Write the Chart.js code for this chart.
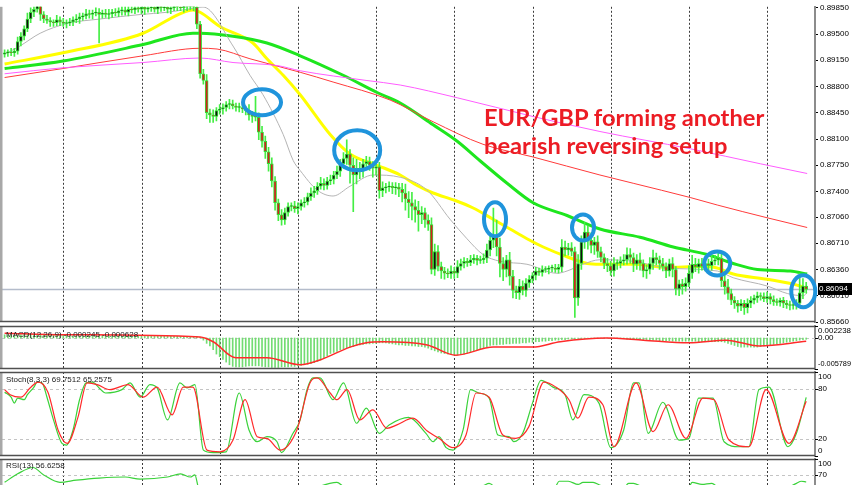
<!DOCTYPE html>
<html lang="en">
<head>
<meta charset="UTF-8">
<title>EUR/GBP H1</title>
<script src="https://cdn.jsdelivr.net/npm/chart.js@4.4.1/dist/chart.umd.min.js"></script>
<style>
    html, body { margin: 0; padding: 0; background: #fff; overflow: hidden; }
    #wrap { position: relative; width: 852px; height: 485px; overflow: hidden; }
    canvas { position: absolute; left: 0; }
    .lbl { position: absolute; left: 6px; font: 8px "Liberation Sans", Arial, sans-serif; color: #222; white-space: nowrap; line-height: 10px; }
    .note { position: absolute; left: 484px; color: #ec1c24; font-family: Lato, sans-serif; font-weight: 700; white-space: nowrap; line-height: 1; }
</style>
</head>
<body>
<div id="wrap">
    <canvas id="main" width="852" height="330" style="top:0"></canvas>
    <canvas id="macd" width="852" height="57" style="top:318px"></canvas>
    <canvas id="stoch" width="852" height="98" style="top:364px"></canvas>
    <canvas id="rsi" width="852" height="61" style="top:451px"></canvas>
    <div class="lbl" style="top:330px">MACD(12,26,9) -0.000245 -0.000628</div>
    <div class="lbl" style="top:375px">Stoch(8,3,3) 69.7512 65.2575</div>
    <div class="lbl" style="top:461px">RSI(13) 56.6258</div>
    <div class="note" id="note1">EUR/GBP forming another</div>
    <div class="note" id="note2">bearish reversing setup</div>
</div>

<script>
    // ---- data (prices in pips, 8609 = 0.8609) ----
    const firstOpen = 8923;
    const closes = [
        8925, 8926, 8925, 8927, 8940, 8947, 8957, 8970, 8979, 8983,
        8990, 8976, 8970, 8968, 8966, 8965, 8969, 8966, 8964, 8965,
        8966, 8969, 8970, 8973, 8974, 8977, 8976, 8978, 8979, 8976,
        8978, 8976, 8977, 8979, 8978, 8981, 8982, 8979, 8983, 8982,
        8985, 8983, 8986, 8983, 8985, 8986, 8983, 8987, 8985, 8986,
        8983, 8985, 8987, 8986, 8985, 8989, 8986, 8987, 8986, 8963,
        8897, 8888, 8845, 8842, 8840, 8848, 8850, 8852, 8856, 8857,
        8854, 8852, 8852, 8850, 8848, 8842, 8840, 8839, 8819, 8807,
        8793, 8777, 8754, 8725, 8709, 8702, 8712, 8720, 8721, 8717,
        8720, 8725, 8726, 8733, 8738, 8741, 8747, 8751, 8748, 8754,
        8756, 8762, 8767, 8777, 8784, 8790, 8775, 8762, 8771, 8767,
        8777, 8780, 8775, 8771, 8773, 8741, 8745, 8746, 8747, 8745,
        8746, 8743, 8738, 8730, 8725, 8720, 8715, 8709, 8712, 8702,
        8696, 8636, 8660, 8640, 8634, 8631, 8630, 8634, 8631, 8640,
        8644, 8647, 8645, 8649, 8651, 8648, 8649, 8651, 8662, 8675,
        8682, 8666, 8644, 8636, 8649, 8627, 8608, 8605, 8614, 8608,
        8618, 8623, 8628, 8634, 8632, 8636, 8636, 8638, 8638, 8636,
        8639, 8666, 8662, 8665, 8660, 8598, 8644, 8673, 8686, 8675,
        8668, 8673, 8660, 8652, 8644, 8641, 8634, 8644, 8644, 8647,
        8649, 8656, 8652, 8643, 8649, 8644, 8634, 8636, 8644, 8652,
        8649, 8644, 8640, 8634, 8644, 8636, 8610, 8617, 8613, 8618,
        8631, 8643, 8639, 8644, 8640, 8644, 8641, 8647, 8649, 8651,
        8621, 8613, 8604, 8595, 8591, 8587, 8591, 8585, 8591, 8595,
        8598, 8601, 8600, 8597, 8600, 8596, 8593, 8592, 8595, 8591,
        8589, 8588, 8589, 8591, 8605, 8614, 8609.4
    ];
    const upWick = [
        4, 3, 5, 4, 6, 5, 4, 8, 6, 5, 6, 3, 4, 5, 4, 3, 6, 4, 5, 4,
        5, 4, 6, 5, 4, 6, 5, 4, 6, 5, 4, 5, 6, 4, 5, 4, 6, 5, 4, 5,
        4, 5, 6, 4, 5, 4, 5, 4, 6, 5, 4, 5, 4, 6, 5, 4, 5, 4, 5, 6,
        4, 6, 8, 5, 7, 4, 6, 5, 4, 6, 5, 4, 6, 5, 4, 8, 5, 27, 6, 8,
        7, 6, 8, 6, 5, 7, 6, 5, 4, 6, 5, 4, 6, 5, 7, 6, 5, 8, 6, 5,
        6, 5, 7, 6, 8, 19, 6, 10, 12, 8, 6, 7, 6, 5, 7, 6, 8, 5, 6, 5,
        6, 5, 8, 12, 10, 14, 9, 12, 8, 6, 7, 9, 10, 8, 6, 5, 6, 7, 5, 8,
        6, 5, 4, 6, 5, 4, 5, 6, 8, 10, 36, 20, 12, 8, 6, 10, 8, 6, 9, 7,
        6, 5, 4, 5, 4, 5, 4, 3, 4, 5, 4, 10, 8, 6, 7, 6, 12, 8, 13, 8,
        10, 6, 8, 6, 5, 7, 6, 8, 5, 6, 7, 9, 8, 6, 7, 9, 5, 6, 8, 10,
        6, 5, 7, 5, 6, 8, 4, 5, 6, 7, 10, 12, 8, 6, 7, 5, 6, 8, 6, 7,
        6, 8, 10, 6, 5, 4, 5, 4, 6, 5, 4, 5, 4, 5, 6, 4, 5, 4, 3, 4,
        4, 5, 4, 5, 26, 10, 5
    ];
    const dnWick = [
        4, 5, 4, 5, 4, 6, 5, 4, 5, 6, 4, 8, 5, 4, 6, 5, 4, 5, 4, 6,
        4, 5, 4, 6, 5, 4, 5, 6, 4, 38, 5, 4, 6, 5, 4, 5, 6, 4, 5, 4,
        5, 4, 6, 7, 4, 5, 4, 6, 5, 4, 5, 6, 4, 5, 4, 6, 5, 4, 5, 6,
        6, 5, 8, 10, 8, 6, 5, 7, 5, 6, 4, 5, 6, 5, 6, 7, 8, 5, 10, 8,
        9, 10, 8, 10, 8, 7, 6, 5, 6, 5, 7, 5, 6, 4, 5, 6, 5, 4, 6, 5,
        5, 6, 5, 7, 6, 8, 24, 49, 12, 10, 8, 6, 7, 12, 9, 10, 8, 7, 6, 8,
        9, 10, 12, 15, 20, 18, 16, 22, 12, 10, 8, 6, 8, 6, 10, 8, 5, 6, 7, 6,
        5, 6, 5, 4, 5, 6, 4, 5, 6, 8, 10, 12, 18, 15, 10, 12, 10, 8, 9, 6,
        8, 6, 5, 6, 4, 5, 4, 6, 5, 4, 5, 6, 8, 7, 6, 26, 10, 8, 9, 12,
        10, 12, 8, 6, 7, 8, 6, 7, 8, 6, 5, 6, 8, 10, 7, 9, 8, 10, 6, 8,
        7, 8, 6, 9, 7, 10, 8, 9, 10, 6, 5, 7, 6, 8, 5, 6, 7, 6, 5, 7,
        8, 10, 8, 6, 7, 8, 6, 9, 7, 6, 5, 6, 5, 4, 5, 6, 5, 4, 5, 6,
        5, 6, 5, 6, 4, 8, 5
    ];

    // moving averages: [bar index, pips]
    const maYellow = [[0, 8910], [17.9, 8925], [42.5, 8951], [53.8, 8977], [57.8, 8982], [60, 8979], [66.1, 8960], [76.2, 8938], [80.5, 8917], [85.5, 8895], [90.7, 8869], [99.9, 8816], [106, 8790], [114.3, 8775], [121.4, 8762], [126.6, 8748], [131.5, 8738], [138.3, 8728], [143.8, 8718], [149.9, 8703], [155.1, 8690], [160.3, 8677], [165.3, 8666], [172.6, 8653], [178.8, 8644], [182.7, 8643], [192.9, 8643], [203.3, 8639], [213.4, 8640], [218.7, 8638], [223.6, 8630], [234, 8623], [244.1, 8614], [246.3, 8610]];
    const maGreen = [[0, 8904], [17.9, 8914], [42.5, 8936], [57.8, 8951], [60, 8951], [70.1, 8947], [80.5, 8938], [90.7, 8921], [103.9, 8895], [114.3, 8872], [121.4, 8858], [131.5, 8829], [138.9, 8807], [145.9, 8781], [154.2, 8751], [162.2, 8725], [172.6, 8708], [182.7, 8690], [195, 8679], [205.2, 8666], [215.6, 8656], [223.6, 8644], [231, 8636], [241.1, 8634], [246.3, 8630]];
    const maRed = [[0, 8892], [17.9, 8904], [42.5, 8921], [60, 8931], [65.2, 8930], [75.3, 8917], [90.7, 8899], [100.8, 8886], [118.3, 8862], [131.5, 8833], [146.8, 8803], [162.2, 8786], [182.7, 8762], [192.9, 8751], [210.4, 8732], [218.7, 8722], [234, 8705], [246.3, 8692]];
    const maMagenta = [[0, 8897], [17.9, 8905], [42.5, 8912], [60, 8918], [70.1, 8912], [83.6, 8908], [90.7, 8901], [111.2, 8888], [121.4, 8882], [138.9, 8865], [162.2, 8840], [182.7, 8820], [210.4, 8797], [231.9, 8777], [246.3, 8764]];
    const maGray = [[0, 8923], [4.7, 8934], [10.9, 8951], [19.2, 8964], [29.3, 8970], [41.6, 8976], [49.9, 8979], [56, 8983], [60.9, 8986], [70.1, 8934], [75.3, 8895], [79.3, 8869], [85.5, 8816], [88.6, 8781], [90.7, 8768], [95.9, 8742], [100.8, 8734], [106, 8747], [113.1, 8762], [121.4, 8759], [129.6, 8742], [136.7, 8703], [141.9, 8677], [146.8, 8656], [152, 8647], [160.3, 8643], [169.5, 8631], [172.6, 8634], [177.5, 8643], [182.7, 8649], [192.9, 8647], [203.3, 8638], [218.7, 8634], [223.6, 8625], [234, 8614], [240.2, 8604], [245.1, 8601], [246.3, 8605]];

    // MACD histogram (x 0.0001) and signal [bar, x 0.0001]
    const macdHist = [
        6, 6, 6, 6, 6, 6, 7, 7, 7, 7, 7, 6, 6, 6, 5, 5, 5, 5, 5, 5,
        4, 4, 4, 4, 4, 4, 4, 4, 4, 4, 4, 4, 4, 4, 4, 4, 3, 3, 3, 3,
        3, 3, 3, 3, 3, 3, 3, 3, 3, 3, 3, 3, 3, 3, 3, 3, 3, 3, 3, 3,
        1, -4, -10, -15, -22, -30, -35, -40, -45, -50, -53, -54, -54, -54, -53, -52, -52, -52, -52, -53,
        -54, -54, -55, -55, -55, -54, -54, -54, -53, -53, -52, -51, -50, -49, -48, -46, -44, -41, -37, -33,
        -29, -27, -25, -22, -20, -18, -17, -16, -14, -13, -12, -11, -11, -10, -10, -9, -9, -9, -10, -11,
        -12, -13, -13, -14, -14, -15, -15, -16, -16, -17, -19, -22, -24, -26, -28, -29, -30, -31, -32, -32,
        -31, -30, -28, -26, -24, -22, -20, -18, -16, -14, -13, -13, -12, -12, -11, -11, -10, -10, -10, -9,
        -9, -8, -8, -7, -7, -6, -6, -5, -5, -4, -4, -3, -3, -2, -2, -2, -1, -1, -1, 0,
        0, 0, 0, 0, 0, 0, 0, 0, -1, -1, -1, -2, -2, -2, -3, -3, -3, -3, -4, -4,
        -4, -5, -5, -5, -5, -6, -6, -6, -6, -6, -6, -6, -6, -7, -7, -7, -7, -7, -7, -7,
        -7, -8, -10, -12, -14, -16, -17, -17, -17, -17, -17, -17, -16, -15, -14, -13, -12, -11, -10, -9,
        -8, -7, -6, -5, -4, -3, -2.45
    ];
    const macdSignal = [[0, 9], [18, 6], [60, 2], [64, -7], [71, -37], [80.5, -37], [90.7, -50], [96.8, -41], [106, -17], [111, -9], [116, -7], [129.7, -13], [138.5, -32], [150, -17], [162, -17], [170.5, -7], [184.6, 0], [196, -4], [210, -9], [221.4, -4], [231.6, -15], [246, -6.28]];

    // Stochastic %K / %D and RSI: [bar, value]
    const stochK = [[0, 76], [2, 70], [3, 63], [4, 69], [6, 67], [7, 73], [9, 82], [10, 88], [11.5, 87], [13, 70], [15, 43], [17.6, 15], [19, 13], [21, 31], [23, 67], [25, 87], [27, 88], [29, 81], [31, 75], [36, 79], [38.5, 87], [41.6, 70], [44.6, 85], [46.8, 81], [50, 43], [53.8, 87], [56, 81], [58.4, 85], [61, 7], [64, 4], [68, 5], [72, 75], [75, 31], [77.5, 17], [80.5, 23], [83.6, 17], [85, 4], [88.5, 27], [90.7, 43], [92.8, 79], [94.6, 93], [96.8, 93], [100.8, 67], [104, 87], [108, 39], [111, 57], [115, 27], [118, 37], [124, 46], [129.3, 27], [131.5, 17], [133.3, 23], [135.5, 10], [137.6, 7], [140.7, 31], [143, 79], [145.6, 75], [148.7, 69], [151.4, 25], [154.8, 23], [156.3, 17], [159, 27], [162, 63], [164.6, 90], [168.3, 82], [172, 73], [174.4, 43], [177.8, 73], [182.4, 63], [186, 10], [190, 31], [193, 87], [194.7, 87], [197.5, 27], [202, 64], [207, 19], [210, 21], [213, 69], [217.4, 69], [220.8, 17], [225.4, 11], [228.4, 11], [231.5, 79], [234.6, 82], [240.4, 11], [243, 27], [246, 69.75]];
    const stochD = [[0, 79], [1.7, 73], [5, 70], [7.8, 81], [10.3, 88], [13.3, 76], [16.4, 31], [19.2, 15], [22.5, 46], [25.3, 87], [28.4, 85], [32.3, 79], [37.9, 85], [42.5, 70], [46.8, 82], [51.4, 49], [54.8, 82], [57.8, 82], [62.1, 7], [66.1, 5], [70.1, 19], [73.8, 67], [77.5, 23], [80.5, 21], [84.5, 7], [89.7, 31], [93.7, 87], [95.9, 93], [99.9, 75], [102, 67], [105.1, 79], [109, 43], [113, 55], [117.3, 33], [120.4, 37], [125.3, 45], [129.6, 30], [133.3, 21], [137.6, 10], [141.6, 25], [144.7, 75], [148.7, 70], [152.9, 25], [156.9, 21], [160.9, 35], [165.5, 88], [169.2, 82], [173.2, 67], [175.9, 45], [179.3, 70], [183.6, 61], [187, 11], [193.8, 87], [199, 29], [203.6, 61], [209.1, 21], [214.3, 69], [217.7, 67], [222.3, 19], [228.4, 11], [233.7, 79], [240.7, 15], [246, 65.26]];
    const rsi = [[0, 56], [4, 72], [8.7, 84], [12, 70], [17, 56], [22, 60], [29, 64], [37, 66], [41.6, 62], [50, 66], [54, 72], [57, 66], [58.4, 70], [59.5, 45], [62, 25], [70, 30], [80, 28], [86, 25], [95, 45], [102, 56], [104, 48], [115, 35], [130, 30], [140, 32], [147, 50], [148.7, 54], [151, 45], [160, 38], [169, 48], [170.2, 58], [173, 58], [176, 52], [177.5, 56], [180.6, 56], [183, 50], [190, 46], [191.5, 54], [193, 54], [196, 48], [210, 48], [211, 56], [214, 52], [217, 54], [220, 40], [230, 30], [240, 45], [243, 54], [244.5, 58], [246, 56.63]];

    const priceTicks = [0.89850, 0.89500, 0.89150, 0.88800, 0.88450, 0.88100, 0.87750, 0.87400, 0.87060, 0.86710, 0.86360, 0.86010, 0.85660];
    const dayStarts = [18.2, 42.2, 66.2, 90.2, 114.2, 138.2, 162.2, 186.2, 210.2, 234.2];
    // blue rings: [bar, pips, rx, ry]
    const rings = [[79, 8859, 19, 13], [108.2, 8795, 23, 20], [150.5, 8703, 11, 17], [177.5, 8692, 11, 13], [218.7, 8644, 13, 12], [245.1, 8607, 12, 16]];

    // ---- helpers ----
    const lastPrice = closes[closes.length - 1] / 1e4;
    const opens = closes.map((c, i) => i === 0 ? firstOpen : closes[i - 1]);
    const pts = (arr, k) => arr.map(([x, y]) => ({ x: x, y: y * k }));

    Chart.defaults.animation = false;
    Chart.defaults.responsive = false;
    Chart.defaults.devicePixelRatio = 1;
    Chart.defaults.events = [];
    Chart.defaults.font.family = 'Liberation Sans';
    Chart.defaults.font.size = 8;
    Chart.defaults.plugins.legend.display = false;
    Chart.defaults.plugins.tooltip.enabled = false;

    function xAxis() {
        return {
            type: 'linear', min: -0.8, max: 248.7, offset: false,
            afterBuildTicks: s => { s.ticks = dayStarts.map(v => ({ value: v })); },
            afterFit: s => { s.height = 0; },
            ticks: { display: false },
            grid: { color: '#3c3c3c', lineWidth: 1, drawTicks: false, offset: false },
            border: { display: false, dash: [2, 2] }
        };
    }
    function subY(min, max) {
        return {
            position: 'right', min: min, max: max, beginAtZero: false,
            afterFit: s => { s.width = 37; },
            ticks: { display: false },
            grid: { display: false },
            border: { display: true, color: '#8c8c8c', width: 2 }
        };
    }

    const frame = {
        id: 'frame',
        beforeDatasetsDraw(chart, args, o) {
            const { ctx, chartArea: a, scales } = chart;
            ctx.save();
            ctx.strokeStyle = '#c4c4c4';
            ctx.lineWidth = 1;
            ctx.setLineDash([3, 3]);
            (o.levels || []).forEach(v => {
                const y = Math.round(scales.y.getPixelForValue(v)) + 0.5;
                ctx.beginPath(); ctx.moveTo(a.left, y); ctx.lineTo(a.right, y); ctx.stroke();
            });
            ctx.restore();
        },
        afterDraw(chart, args, o) {
            const { ctx, chartArea: a, scales } = chart;
            ctx.save();
            ctx.fillStyle = '#a8a8a8';
            ctx.fillRect(0, a.top, 2.5, a.bottom - a.top);
            ctx.strokeStyle = '#505050';
            ctx.lineWidth = 1.5;
            if (o.top) { ctx.beginPath(); ctx.moveTo(0, a.top + 0.5); ctx.lineTo(a.right, a.top + 0.5); ctx.stroke(); }
            if (o.bottom) { ctx.beginPath(); ctx.moveTo(0, a.bottom - 0.5); ctx.lineTo(a.right, a.bottom - 0.5); ctx.stroke(); }
            if (o.labels) {
                ctx.font = '8px "Liberation Sans"';
                ctx.fillStyle = '#000';
                ctx.textBaseline = 'middle';
                o.labels.forEach(([v, t]) => {
                    const yy = scales.y.getPixelForValue(v);
                    const y = Math.min(Math.max(yy, a.top + 5), a.bottom - 5);
                    const x = a.right + 3;
                    ctx.fillRect(a.right, Math.round(yy), 3, 1);
                    ctx.fillText(t, x, y, chart.width - x - 1);
                });
            }
            ctx.restore();
        }
    };

    const priceMarks = {
        id: 'priceMarks',
        beforeDatasetsDraw(chart) {
            const { ctx, chartArea: a, scales } = chart;
            const y = scales.y.getPixelForValue(lastPrice);
            ctx.save();
            ctx.strokeStyle = '#b4bccb';
            ctx.lineWidth = 1.5;
            ctx.beginPath(); ctx.moveTo(a.left, y); ctx.lineTo(a.right, y); ctx.stroke();
            ctx.restore();
        },
        afterDatasetsDraw(chart) {
            const { ctx, scales } = chart;
            ctx.save();
            ctx.strokeStyle = '#1f94dc';
            ctx.lineWidth = 4;
            rings.forEach(([i, p, rx, ry]) => {
                ctx.beginPath();
                ctx.ellipse(scales.x.getPixelForValue(i), scales.y.getPixelForValue(p / 1e4), rx, ry, 0, 0, Math.PI * 2);
                ctx.stroke();
            });
            ctx.restore();
        },
        afterDraw(chart) {
            const { ctx, chartArea: a, scales } = chart;
            const y = scales.y.getPixelForValue(lastPrice);
            ctx.save();
            ctx.fillStyle = '#000';
            ctx.fillRect(a.right + 3, Math.round(y) - 6, 34, 12);
            ctx.fillStyle = '#fff';
            ctx.font = '8px "Liberation Sans"';
            ctx.textBaseline = 'middle';
            ctx.fillText(lastPrice.toFixed(5), a.right + 4, Math.round(y));
            ctx.restore();
        }
    };

    const maLine = (arr, color, w) => ({
        type: 'line', data: pts(arr, 1e-4), borderColor: color, borderWidth: w,
        pointRadius: 0, cubicInterpolationMode: 'monotone', order: 5
    });

    // ---- main price chart ----
    new Chart(document.getElementById('main'), {
        type: 'bar',
        data: {
            datasets: [
                maLine(maMagenta, '#ff5cff', 1),
                maLine(maRed, '#ff3b3b', 1),
                maLine(maGray, '#b4b4b4', 1),
                maLine(maGreen, '#1ee61e', 3),
                maLine(maYellow, '#ffff00', 3),
                {
                    data: closes.map((c, i) => ({ x: i, y: [(Math.min(opens[i], c) - dnWick[i]) / 1e4, (Math.max(opens[i], c) + upWick[i]) / 1e4] })),
                    backgroundColor: '#44ee44', barThickness: 1, grouped: false, order: 2
                },
                {
                    data: closes.map((c, i) => ({ x: i, y: [opens[i] / 1e4, c / 1e4] })),
                    backgroundColor: closes.map((c, i) => c < opens[i] ? '#d42020' : '#101010'),
                    borderColor: '#33dd33', borderWidth: 1, borderSkipped: false,
                    barThickness: 3, minBarLength: 1, grouped: false, order: 1
                }
            ]
        },
        options: {
            layout: { padding: { left: 2, right: 0, top: 0, bottom: 8 } },
            scales: {
                x: xAxis(),
                y: {
                    position: 'right', min: 0.8566, max: 0.89863, beginAtZero: false,
                    afterBuildTicks: s => { s.ticks = priceTicks.map(v => ({ value: v })); },
                    afterFit: s => { s.width = 37; },
                    ticks: { color: '#000', padding: 2, autoSkip: false, callback: v => v.toFixed(5), font: { family: 'Liberation Sans', size: 8 } },
                    grid: { drawOnChartArea: false, tickLength: 3, color: '#000' },
                    border: { display: true, color: '#8c8c8c', width: 2 }
                }
            },
            plugins: { frame: { bottom: true } }
        },
        plugins: [frame, priceMarks]
    });

    // ---- MACD ----
    new Chart(document.getElementById('macd'), {
        type: 'bar',
        data: {
            datasets: [
                {
                    type: 'line', data: pts(macdSignal, 1e-4), borderColor: '#ff2a2a', borderWidth: 1.5,
                    pointRadius: 0, cubicInterpolationMode: 'monotone', order: 1
                },
                {
                    data: macdHist.map((v, i) => ({ x: i, y: v / 1e4 })),
                    backgroundColor: '#72dc72', barThickness: 1, grouped: false, order: 2
                }
            ]
        },
        options: {
            layout: { padding: { left: 2, right: 0, top: 8, bottom: 6 } },
            scales: { x: xAxis(), y: subY(-0.005789, 0.002238) },
            plugins: {
                frame: {
                    top: true, bottom: true, levels: [0],
                    labels: [[0.002238, '0.002238'], [0, '0.00'], [-0.005789, '-0.005789']]
                }
            }
        },
        plugins: [frame]
    });

    // ---- Stochastic ----
    new Chart(document.getElementById('stoch'), {
        type: 'line',
        data: {
            datasets: [
                { data: pts(stochD, 1), borderColor: '#ff2a2a', borderWidth: 1.2, pointRadius: 0, cubicInterpolationMode: 'monotone' },
                { data: pts(stochK, 1), borderColor: '#3ad23a', borderWidth: 1.2, pointRadius: 0, cubicInterpolationMode: 'monotone' }
            ]
        },
        options: {
            layout: { padding: { left: 2, right: 0, top: 8, bottom: 6 } },
            scales: { x: xAxis(), y: subY(0, 100) },
            plugins: {
                frame: {
                    top: true, bottom: true, levels: [80, 20],
                    labels: [[100, '100'], [80, '80'], [20, '20'], [0, '0']]
                }
            }
        },
        plugins: [frame]
    });

    // ---- RSI ----
    new Chart(document.getElementById('rsi'), {
        type: 'line',
        data: {
            datasets: [
                { data: pts(rsi, 1), borderColor: '#3ad23a', borderWidth: 1.2, pointRadius: 0, cubicInterpolationMode: 'monotone' }
            ]
        },
        options: {
            layout: { padding: { left: 2, right: 0, top: 8, bottom: 0 } },
            scales: { x: xAxis(), y: subY(0, 100) },
            plugins: {
                frame: {
                    top: true, levels: [70, 30],
                    labels: [[100, '100'], [70, '70'], [30, '30'], [0, '0']]
                }
            }
        },
        plugins: [frame]
    });

    // ---- headline, sized to the width seen in the picture ----
    const mc = document.createElement('canvas').getContext('2d');
    mc.font = '700 24px Lato';
    const fs = 24 * 281 / mc.measureText('EUR/GBP forming another').width;
    const n1 = document.getElementById('note1');
    const n2 = document.getElementById('note2');
    n1.style.fontSize = fs + 'px';
    n2.style.fontSize = fs + 'px';
    n1.style.top = (127 - 0.887 * fs) + 'px';
    n2.style.top = (155 - 0.887 * fs) + 'px';
</script>
</body>
</html>
